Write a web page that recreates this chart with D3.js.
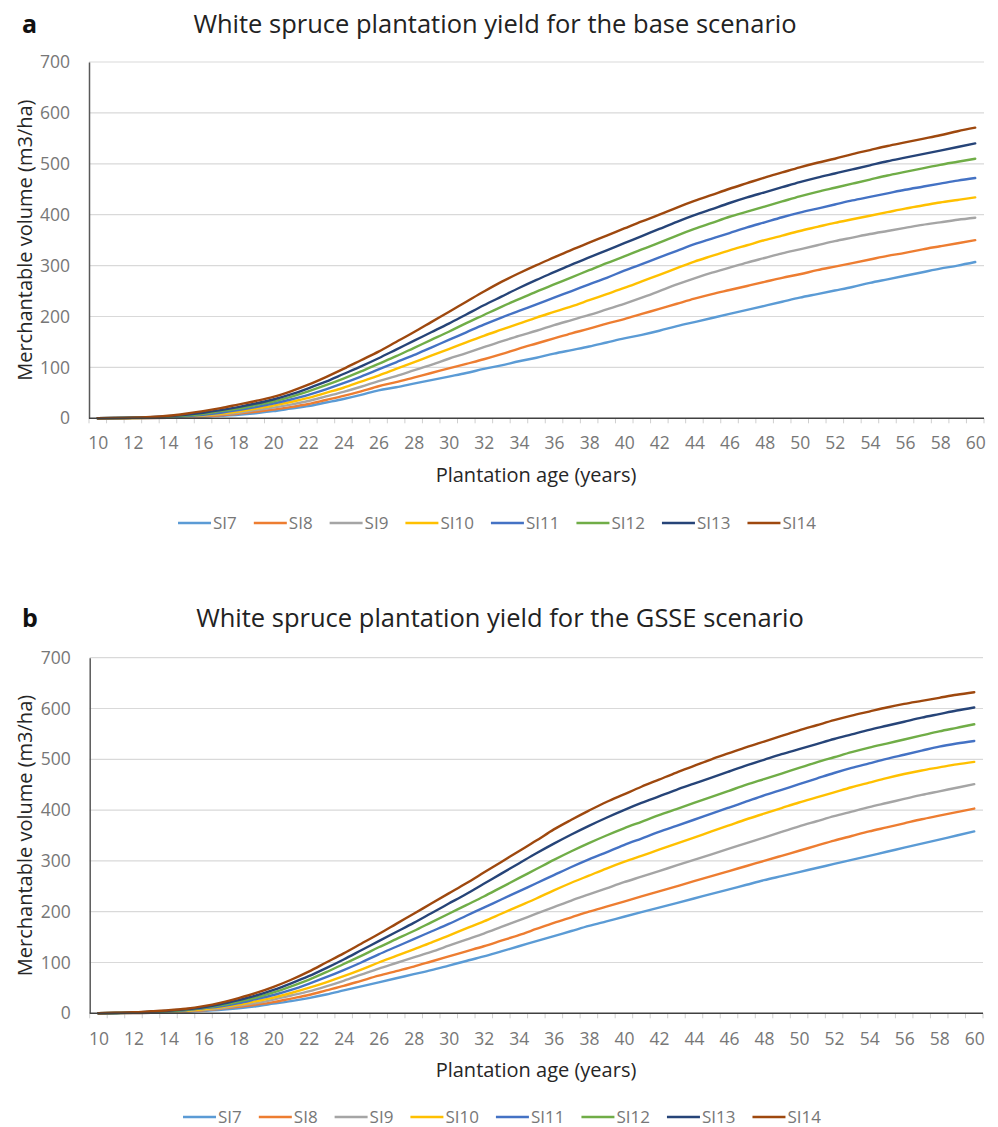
<!DOCTYPE html>
<html>
<head>
<meta charset="utf-8">
<script src="https://cdn.jsdelivr.net/npm/d3@7"></script>
<style>
  html, body { margin: 0; padding: 0; background: #fff; }
  svg { display: block; }
  text { font-family: "Open Sans", "DejaVu Sans", sans-serif; }
</style>
</head>
<body>
<svg id="chart" width="998" height="1127"></svg>
<script>
// ---------- DATA ----------
const years = [10,11,12,13,14,15,16,17,18,19,20,21,22,23,24,25,26,27,28,29,30,31,32,33,34,35,
               36,37,38,39,40,41,42,43,44,45,46,47,48,49,50,51,52,53,54,55,56,57,58,59,60];
const xTickLabels = [10,12,14,16,18,20,22,24,26,28,30,32,34,36,38,40,42,44,46,48,50,52,54,56,58,60];
const yTickLabels = [0,100,200,300,400,500,600,700];
const seriesNames = ["SI7","SI8","SI9","SI10","SI11","SI12","SI13","SI14"];
const seriesColors = ["#5B9BD5","#ED7D31","#A5A5A5","#FFC000","#4472C4","#70AD47","#264478","#9E480E"];

// Panel a: base scenario (m3/ha)
const baseSI7  = [0,0.1,0.2,0.5,1,2,3,5,7,10,14,19,24,31,38,46,55,61,68,75,82,89,97,104,112,119,127,134,141,149,157,164,172,181,189,197,205,213,221,229,237,244,251,258,266,273,280,287,294,300,307];
const baseSI8  = [0,0.1,0.3,0.6,1,2,4,6,9,13,17,22,28,36,44,53,63,71,80,89,98,107,116,126,137,147,157,167,176,186,195,205,215,225,235,244,252,260,268,276,283,291,298,305,312,319,325,332,338,344,350];
const baseSI9  = [0,0.2,0.5,1,1.5,3,5,8,11,16,21,27,34,43,52,62,73,83,94,105,117,128,140,151,162,172,183,193,203,214,225,237,250,263,275,286,296,306,315,324,332,340,348,355,362,368,374,380,385,390,394];
const baseSI10 = [0,0.3,0.5,1,2,4,6,9,13,19,25,32,40,50,60,72,84,97,110,123,136,149,162,174,186,198,209,220,232,244,256,269,282,295,308,319,330,340,350,359,368,376,384,391,398,405,412,418,424,429,434];
const baseSI11 = [0,0.5,1,1.5,2,4,7,11,16,22,29,37,46,57,69,82,96,110,124,139,154,169,184,198,211,224,237,250,263,276,290,303,316,329,342,353,364,375,385,395,404,412,420,428,435,442,449,455,461,467,472];
const baseSI12 = [0,0.5,1,2,3,5.5,9,14,19,26,33,42,53,65,78,92,107,122,138,154,170,187,203,219,234,249,263,277,291,305,318,332,345,359,372,384,396,406,416,426,436,445,453,461,469,477,484,491,498,504,510];
const baseSI13 = [0,0.5,1,2,4,7,11,16,22,29,37,47,59,72,87,102,118,135,152,169,186,204,222,239,256,272,287,302,316,330,344,358,372,386,399,411,423,434,444,454,464,473,481,489,497,505,512,519,526,533,540];
const baseSI14 = [0,0.5,1,2.5,5,9,14,20,27,34,42,53,66,81,97,114,131,150,169,189,209,229,249,268,285,301,316,331,345,359,373,387,400,414,427,439,451,462,473,483,493,502,510,519,527,535,542,549,556,564,571];

// Panel b: GSSE scenario (m3/ha)
const gsseSI7  = [0,0.2,0.5,1,1.5,3,5,7,10,14,19,24,30,37,45,53,61,69,77,85,94,103,112,122,132,142,152,162,172,181,190,199,208,217,226,235,244,253,262,270,278,286,294,302,310,318,326,334,342,350,358];
const gsseSI8  = [0,0.3,0.5,1,2,4,6,9,13,17,22,29,36,45,54,64,74,83,92,102,112,122,132,143,154,166,178,189,200,210,220,230,240,250,260,270,280,290,300,310,320,330,340,349,358,366,374,382,389,396,403];
const gsseSI9  = [0,0.5,1,1.7,2.5,4.5,7,10,15,20,27,35,43,53,64,76,88,99,110,121,133,145,157,170,183,196,209,222,234,246,258,269,280,291,302,313,324,335,346,357,368,378,388,397,406,414,422,430,437,444,451];
const gsseSI10 = [0,0.5,1,2,3,5,8,12,17,24,31,40,50,61,73,86,100,113,126,139,153,167,181,196,211,226,242,257,271,285,298,310,322,334,346,358,370,382,393,404,415,425,435,445,454,463,471,478,484,490,495];
const gsseSI11 = [0,0.5,1,2,3.5,6,10,14,20,28,36,46,58,71,85,100,116,131,146,161,176,192,208,224,240,256,272,288,303,317,331,344,357,369,381,393,405,417,429,440,451,462,473,483,492,501,509,517,525,531,536];
const gsseSI12 = [0,0.7,1.5,2.5,4,7,11,16,23,31,41,53,66,81,97,113,130,146,162,179,196,213,230,248,266,284,302,319,335,350,364,377,390,402,414,426,438,450,461,472,483,494,504,514,523,531,539,547,555,562,569];
const gsseSI13 = [0,0.7,1.5,3,5,8,12,18,26,35,46,59,73,89,106,124,142,160,178,197,216,235,255,275,295,315,334,352,369,385,400,414,427,440,452,464,476,488,499,510,520,530,540,549,558,566,574,582,589,596,602];
const gsseSI14 = [0,1,2,4,6,9,14,21,30,40,52,66,82,100,118,137,156,176,196,216,236,256,277,298,319,340,362,381,399,416,431,446,460,474,487,500,512,524,535,546,557,567,577,586,594,602,609,615,621,627,632];

const panels = [
  { letter: "a", title: "White spruce plantation yield for the base scenario",
    series: [baseSI7, baseSI8, baseSI9, baseSI10, baseSI11, baseSI12, baseSI13, baseSI14],
    top: 62, bottom: 418.3, left: 89, right: 984, titleY: 33, titleCX: 495, letterX: 22, letterY: 33,
    xLabY: 449, xTitleY: 482, legendY: 523, legendCX: 497 },
  { letter: "b", title: "White spruce plantation yield for the GSSE scenario",
    series: [gsseSI7, gsseSI8, gsseSI9, gsseSI10, gsseSI11, gsseSI12, gsseSI13, gsseSI14],
    top: 657.7, bottom: 1013.3, left: 89.7, right: 983, titleY: 627, titleCX: 500, letterX: 22, letterY: 627,
    xLabY: 1045, xTitleY: 1077, legendY: 1117, legendCX: 502 }
];

const svg = d3.select("#chart");

panels.forEach(p => {
  const g = svg.append("g");
  const x = d3.scaleBand().domain(years).range([p.left, p.right]).paddingInner(0).paddingOuter(0);
  const xp = d3.scalePoint().domain(years).range([p.left + x.bandwidth()/2, p.right - x.bandwidth()/2]);
  const y = d3.scaleLinear().domain([0, 700]).range([p.bottom, p.top]);

  // gridlines
  g.append("g").selectAll("line").data(yTickLabels.filter(v => v > 0)).join("line")
    .attr("x1", p.left).attr("x2", p.right)
    .attr("y1", d => y(d)).attr("y2", d => y(d))
    .attr("stroke", "#d9d9d9").attr("stroke-width", 1.2);

  // y axis labels
  const yAxis = d3.axisLeft(y).tickValues(yTickLabels).tickSize(0).tickPadding(19);
  const ya = g.append("g").attr("transform", `translate(${p.left},0)`).call(yAxis);
  ya.select(".domain").attr("stroke", "#595959").attr("stroke-width", 1.5);
  ya.selectAll("text").attr("fill", "#777").attr("font-size", 17.5)
    .attr("font-family", "'Open Sans', sans-serif");

  // x tick marks at category boundaries
  const bounds = years.map(d => x(d)).concat([p.right]);
  g.append("g").selectAll("line").data(bounds).join("line")
    .attr("x1", d => d).attr("x2", d => d)
    .attr("y1", p.bottom).attr("y2", p.bottom + 5)
    .attr("stroke", "#cfcfcf").attr("stroke-width", 1);

  // x axis labels
  const xAxis = d3.axisBottom(xp).tickValues(xTickLabels).tickSize(0).tickPadding(0);
  const xa = g.append("g").attr("transform", `translate(0,${p.xLabY - 12})`).call(xAxis);
  xa.select(".domain").remove();
  xa.selectAll("text").attr("fill", "#777").attr("font-size", 17.5)
    .attr("font-family", "'Open Sans', sans-serif").attr("dy", "0.71em");

  // series lines
  const line = d3.line().x((d, i) => xp(years[i])).y(d => y(d)).curve(d3.curveMonotoneX);
  g.append("g").selectAll("path").data(p.series).join("path")
    .attr("d", d => line(d))
    .attr("fill", "none")
    .attr("stroke", (d, i) => seriesColors[i])
    .attr("stroke-width", 2.4)
    .attr("stroke-linejoin", "round").attr("stroke-linecap", "round");

  // x axis line (drawn over lines)
  g.append("line").attr("x1", p.left).attr("x2", p.right)
    .attr("y1", p.bottom).attr("y2", p.bottom)
    .attr("stroke", "#404040").attr("stroke-width", 1.6);

  // titles
  g.append("text").attr("x", p.titleCX).attr("y", p.titleY).attr("text-anchor", "middle")
    .attr("font-size", 25.5).attr("fill", "#222").text(p.title);
  g.append("text").attr("x", p.letterX).attr("y", p.letterY)
    .attr("font-family", "'Liberation Sans', Arial, sans-serif")
    .attr("font-weight", "bold").attr("font-size", 25).attr("fill", "#111").text(p.letter);
  g.append("text").attr("x", 536).attr("y", p.xTitleY).attr("text-anchor", "middle")
    .attr("font-size", 20).attr("fill", "#262626").text("Plantation age (years)");
  g.append("text")
    .attr("transform", `translate(32,${(p.top + p.bottom)/2}) rotate(-90)`)
    .attr("text-anchor", "middle").attr("font-size", 20).attr("fill", "#262626")
    .text("Merchantable volume (m3/ha)");

  // legend
  const lg = g.append("g");
  const items = lg.selectAll("g").data(seriesNames).join("g");
  items.append("line").attr("x1", 0).attr("x2", 33).attr("y1", 0).attr("y2", 0)
    .attr("stroke", (d, i) => seriesColors[i]).attr("stroke-width", 2.6);
  items.append("text").attr("x", 35).attr("y", 0).attr("dy", "0.36em")
    .attr("font-size", 17).attr("fill", "#777").text(d => d);
  let cx = 0;
  const offs = [];
  items.each(function() {
    offs.push(cx);
    const w = this.querySelector("text").getComputedTextLength();
    cx += 35 + w + 17;
  });
  const totalW = cx - 17;
  const startX = p.legendCX - totalW / 2;
  items.attr("transform", (d, i) => `translate(${startX + offs[i]},${p.legendY})`);
});
</script>
</body>
</html>
